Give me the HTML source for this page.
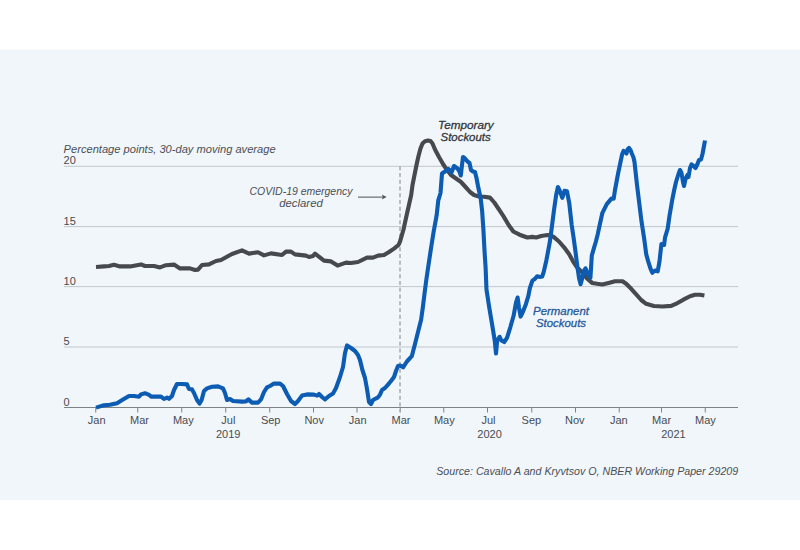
<!DOCTYPE html>
<html><head><meta charset="utf-8"><title>Stockouts</title>
<style>
html,body{margin:0;padding:0;background:#fff;}
body{width:800px;height:550px;overflow:hidden;position:relative;font-family:"Liberation Sans",sans-serif;}
#panel{position:absolute;left:0;top:50px;width:800px;height:450px;background:#f1f6fa;}
svg{position:absolute;left:0;top:0;}
text{font-family:"Liberation Sans",sans-serif;}
.ax{font-size:11px;fill:#474c52;}
.it{font-size:11px;font-style:italic;fill:#4a4f55;}
.bi{font-size:10.5px;font-style:italic;font-weight:normal;stroke-width:0.28px;stroke-linejoin:round;}
</style></head><body>
<svg width="800" height="550" viewBox="0 0 800 550">
<rect x="0" y="49.5" width="800" height="450.5" fill="#f1f6fa"/>

<line x1="64" x2="738" y1="166.3" y2="166.3" stroke="#c2c7cb" stroke-width="1"/>
<line x1="64" x2="738" y1="226.6" y2="226.6" stroke="#c2c7cb" stroke-width="1"/>
<line x1="64" x2="738" y1="286.6" y2="286.6" stroke="#c2c7cb" stroke-width="1"/>
<line x1="64" x2="738" y1="347" y2="347" stroke="#c2c7cb" stroke-width="1"/>
<line x1="64" x2="738" y1="407.5" y2="407.5" stroke="#7d8287" stroke-width="1.2"/>
<line x1="95.75" x2="95.75" y1="407.5" y2="412.5" stroke="#7d8287" stroke-width="1"/>
<line x1="137.75" x2="137.75" y1="407.5" y2="412.5" stroke="#7d8287" stroke-width="1"/>
<line x1="181.75" x2="181.75" y1="407.5" y2="412.5" stroke="#7d8287" stroke-width="1"/>
<line x1="225.75" x2="225.75" y1="407.5" y2="412.5" stroke="#7d8287" stroke-width="1"/>
<line x1="269.75" x2="269.75" y1="407.5" y2="412.5" stroke="#7d8287" stroke-width="1"/>
<line x1="313.5" x2="313.5" y1="407.5" y2="412.5" stroke="#7d8287" stroke-width="1"/>
<line x1="357" x2="357" y1="407.5" y2="412.5" stroke="#7d8287" stroke-width="1"/>
<line x1="400.25" x2="400.25" y1="407.5" y2="412.5" stroke="#7d8287" stroke-width="1"/>
<line x1="443.75" x2="443.75" y1="407.5" y2="412.5" stroke="#7d8287" stroke-width="1"/>
<line x1="487.5" x2="487.5" y1="407.5" y2="412.5" stroke="#7d8287" stroke-width="1"/>
<line x1="531.75" x2="531.75" y1="407.5" y2="412.5" stroke="#7d8287" stroke-width="1"/>
<line x1="575.5" x2="575.5" y1="407.5" y2="412.5" stroke="#7d8287" stroke-width="1"/>
<line x1="619.25" x2="619.25" y1="407.5" y2="412.5" stroke="#7d8287" stroke-width="1"/>
<line x1="661.5" x2="661.5" y1="407.5" y2="412.5" stroke="#7d8287" stroke-width="1"/>
<line x1="705.25" x2="705.25" y1="407.5" y2="412.5" stroke="#7d8287" stroke-width="1"/>
<line x1="400" x2="400" y1="166.3" y2="412" stroke="#abaeb1" stroke-width="1.6" stroke-dasharray="4 2.75"/>
<text class="ax" x="63.6" y="164.3">20</text>
<text class="ax" x="63.6" y="224.6">15</text>
<text class="ax" x="63.6" y="284.6">10</text>
<text class="ax" x="63.6" y="345.0">5</text>
<text class="ax" x="63.6" y="405.5">0</text>
<text class="ax" x="96.70" y="423.8" text-anchor="middle">Jan</text>
<text class="ax" x="139.55" y="423.8" text-anchor="middle">Mar</text>
<text class="ax" x="183.35" y="423.8" text-anchor="middle">May</text>
<text class="ax" x="228.35" y="423.8" text-anchor="middle">Jul</text>
<text class="ax" x="270.70" y="423.8" text-anchor="middle">Sep</text>
<text class="ax" x="314.20" y="423.8" text-anchor="middle">Nov</text>
<text class="ax" x="357.70" y="423.8" text-anchor="middle">Jan</text>
<text class="ax" x="400.95" y="423.8" text-anchor="middle">Mar</text>
<text class="ax" x="444.35" y="423.8" text-anchor="middle">May</text>
<text class="ax" x="488.45" y="423.8" text-anchor="middle">Jul</text>
<text class="ax" x="531.35" y="423.8" text-anchor="middle">Sep</text>
<text class="ax" x="574.80" y="423.8" text-anchor="middle">Nov</text>
<text class="ax" x="618.85" y="423.8" text-anchor="middle">Jan</text>
<text class="ax" x="661.60" y="423.8" text-anchor="middle">Mar</text>
<text class="ax" x="705.45" y="423.8" text-anchor="middle">May</text>
<text class="ax" x="228.2" y="438" text-anchor="middle">2019</text>
<text class="ax" x="489.6" y="438" text-anchor="middle">2020</text>
<text class="ax" x="673.5" y="438" text-anchor="middle">2021</text>
<text class="it" x="63.6" y="152.9" textLength="212" lengthAdjust="spacingAndGlyphs">Percentage points, 30-day moving average</text>
<text class="it" x="301" y="194.9" text-anchor="middle" textLength="103" lengthAdjust="spacingAndGlyphs">COVID-19 emergency</text>
<text class="it" x="301" y="207" text-anchor="middle" textLength="43.6" lengthAdjust="spacingAndGlyphs">declared</text>
<line x1="358" x2="384" y1="197.1" y2="197.1" stroke="#4a4f55" stroke-width="1"/>
<path d="M381.8,194.6 L386.6,197.1 L381.8,199.6 L383,197.1 Z" fill="#4a4f55"/>
<text class="it" x="738.2" y="475" text-anchor="end" textLength="302" lengthAdjust="spacingAndGlyphs">Source: Cavallo A and Kryvtsov O, NBER Working Paper 29209</text>
<path d="M96.0,267.0 L104.0,266.4 L109.0,266.0 L114.0,264.8 L120.0,266.4 L130.0,266.4 L141.0,264.4 L145.0,266.0 L154.0,266.0 L160.0,267.4 L166.0,265.2 L174.0,264.6 L180.0,268.4 L190.0,268.4 L195.0,270.0 L198.0,269.6 L202.0,265.0 L209.0,264.4 L216.0,261.0 L221.0,260.0 L232.0,254.0 L242.0,250.4 L249.0,253.6 L258.0,252.2 L264.0,255.4 L271.0,253.4 L282.0,255.0 L286.0,251.6 L291.0,251.6 L295.0,254.4 L306.0,255.6 L309.0,257.0 L313.0,256.0 L315.0,253.6 L324.0,260.6 L331.0,261.4 L337.6,265.6 L346.0,262.6 L351.0,263.0 L358.0,262.0 L367.0,257.6 L373.0,257.6 L378.0,255.6 L384.0,255.0 L389.0,252.0 L394.0,248.6 L398.5,245.0 L400.0,241.6 L403.5,229.5 L406.9,214.0 L411.2,195.0 L412.5,185.0 L414.5,175.0 L416.5,165.0 L418.5,156.0 L420.5,148.5 L422.5,143.5 L425.0,141.2 L428.0,140.5 L430.5,141.0 L432.5,143.5 L435.0,149.5 L439.0,157.0 L443.0,164.0 L447.0,170.0 L451.0,175.0 L456.0,178.5 L461.0,182.0 L466.0,187.5 L470.0,192.0 L474.0,195.0 L479.0,196.5 L484.0,196.7 L490.0,197.6 L494.3,202.5 L497.0,206.5 L503.1,215.6 L508.8,225.2 L513.3,231.5 L519.6,234.7 L527.3,237.5 L532.3,236.9 L536.2,237.5 L541.2,236.0 L547.6,235.0 L550.5,235.2 L553.9,237.1 L559.0,241.5 L564.1,247.3 L569.2,254.3 L573.0,261.3 L576.8,267.0 L581.9,272.1 L587.0,278.4 L592.1,282.9 L597.2,283.8 L602.3,284.5 L608.6,282.9 L615.0,281.2 L622.5,281.2 L626.2,283.8 L631.2,288.8 L636.2,294.4 L641.2,300.0 L646.2,303.8 L653.8,306.0 L662.5,306.5 L671.2,305.9 L677.5,303.1 L683.8,299.4 L690.0,296.2 L695.0,294.8 L700.0,294.8 L704.4,295.6" fill="none" stroke="#46494d" stroke-width="4.1" stroke-linejoin="round" stroke-linecap="butt"/>
<path d="M96.0,407.6 L100.0,406.4 L104.0,405.2 L110.0,404.8 L117.0,403.2 L123.0,399.6 L129.0,396.0 L134.0,396.0 L139.0,396.8 L141.0,394.4 L145.0,393.2 L149.0,394.8 L151.0,396.6 L161.0,396.6 L164.0,399.0 L167.0,397.6 L169.0,398.8 L172.0,396.0 L174.0,390.0 L177.0,384.0 L182.0,384.0 L187.0,384.4 L189.0,389.0 L192.0,389.4 L194.0,393.0 L197.0,400.0 L199.6,403.6 L201.6,400.0 L204.0,391.0 L207.0,388.4 L212.0,386.8 L218.0,386.4 L223.0,388.4 L225.0,393.0 L227.0,400.0 L230.0,399.0 L233.0,401.0 L242.0,401.6 L246.0,401.4 L248.4,399.4 L252.0,402.6 L258.0,402.6 L261.0,399.4 L264.0,392.0 L267.0,387.4 L270.0,386.0 L274.0,383.6 L280.0,383.6 L283.0,386.0 L287.0,394.0 L291.0,401.0 L295.0,404.0 L298.0,401.0 L302.0,395.6 L307.0,394.4 L314.0,394.6 L317.0,395.6 L319.0,394.0 L322.0,397.0 L325.0,399.4 L329.0,396.0 L333.0,393.6 L336.0,388.0 L340.0,377.0 L343.0,367.0 L345.0,353.0 L347.0,345.4 L351.0,348.0 L355.0,351.0 L358.0,355.0 L360.0,360.0 L362.4,370.0 L365.0,378.0 L367.0,389.0 L369.0,402.0 L371.0,404.0 L373.0,400.0 L378.0,397.4 L380.0,394.6 L382.0,390.0 L385.0,388.0 L388.0,384.6 L391.0,381.0 L394.0,377.0 L396.0,371.0 L398.0,366.0 L400.0,365.5 L403.1,367.3 L406.9,361.5 L411.8,356.2 L415.0,343.9 L418.5,330.1 L421.1,319.7 L422.8,307.6 L424.5,293.8 L426.3,280.0 L427.6,271.0 L430.7,250.3 L433.7,231.3 L436.6,215.7 L438.3,200.2 L439.2,197.5 L440.5,193.0 L441.5,180.0 L442.0,173.5 L445.0,171.5 L448.5,169.0 L451.5,172.5 L454.0,166.0 L457.5,168.5 L459.5,171.5 L460.8,175.5 L462.0,165.0 L463.0,157.0 L465.0,158.5 L467.5,161.5 L469.5,163.0 L471.0,170.0 L473.0,171.5 L475.0,172.0 L476.5,178.0 L478.0,186.0 L479.5,193.0 L480.7,198.6 L482.1,210.7 L483.3,228.0 L484.5,250.4 L485.6,267.7 L486.5,289.6 L489.0,306.0 L492.3,325.6 L494.7,340.4 L496.0,353.5 L497.2,340.4 L499.6,336.8 L501.3,340.4 L504.2,342.0 L507.0,337.9 L510.3,327.3 L513.6,315.8 L516.0,302.7 L517.6,297.5 L519.0,307.6 L520.6,316.6 L522.6,312.6 L525.8,304.4 L528.3,296.2 L529.9,288.0 L532.4,280.6 L534.8,279.0 L537.3,276.2 L539.7,276.9 L542.2,276.5 L543.8,271.6 L546.4,260.2 L549.7,242.7 L551.8,227.4 L554.0,209.9 L556.2,194.7 L557.9,187.0 L559.6,190.5 L562.3,197.9 L564.5,190.8 L567.0,191.3 L569.3,203.4 L571.7,225.0 L573.6,237.7 L575.5,251.7 L577.4,267.0 L579.1,278.4 L580.6,284.2 L582.2,278.4 L583.8,270.8 L585.5,268.3 L587.2,272.1 L589.3,276.5 L590.4,277.8 L591.1,267.0 L591.8,255.5 L594.0,247.9 L595.9,241.5 L597.8,233.9 L599.7,225.0 L602.3,213.2 L606.8,204.1 L611.4,198.6 L613.7,198.6 L615.0,190.0 L618.0,174.0 L620.5,162.0 L622.2,154.0 L623.5,151.0 L625.5,152.5 L626.5,153.5 L627.5,149.5 L629.0,148.0 L630.5,150.0 L631.8,153.5 L633.5,157.5 L634.5,162.0 L635.7,173.0 L636.9,184.0 L638.8,199.5 L641.5,221.4 L644.3,239.5 L646.2,254.1 L648.2,261.4 L650.5,268.6 L652.3,272.8 L655.0,270.5 L657.7,271.4 L659.5,261.4 L661.4,244.1 L664.1,245.0 L665.0,237.7 L667.7,228.6 L669.5,215.9 L672.3,199.5 L674.1,190.5 L676.0,182.0 L678.5,174.0 L680.0,170.0 L681.5,173.0 L683.0,182.0 L684.0,186.0 L685.5,179.0 L687.5,175.0 L688.5,177.0 L690.0,168.0 L691.5,164.5 L693.5,166.0 L695.5,168.0 L697.5,164.0 L699.0,160.0 L701.0,159.5 L702.5,154.0 L704.0,146.0 L705.0,140.5" fill="none" stroke="#0d5cb3" stroke-width="4.1" stroke-linejoin="round" stroke-linecap="butt"/>
<text class="bi" fill="#33363b" stroke="#33363b" x="465.9" y="128.75" text-anchor="middle" textLength="55.6" lengthAdjust="spacingAndGlyphs">Temporary</text>
<text class="bi" fill="#33363b" stroke="#33363b" x="465.6" y="140.6" text-anchor="middle" textLength="50" lengthAdjust="spacingAndGlyphs">Stockouts</text>
<text class="bi" fill="#27599a" stroke="#27599a" x="561" y="314.5" text-anchor="middle" textLength="56" lengthAdjust="spacingAndGlyphs">Permanent</text>
<text class="bi" fill="#27599a" stroke="#27599a" x="561" y="326.5" text-anchor="middle" textLength="50" lengthAdjust="spacingAndGlyphs">Stockouts</text>
</svg></body></html>
